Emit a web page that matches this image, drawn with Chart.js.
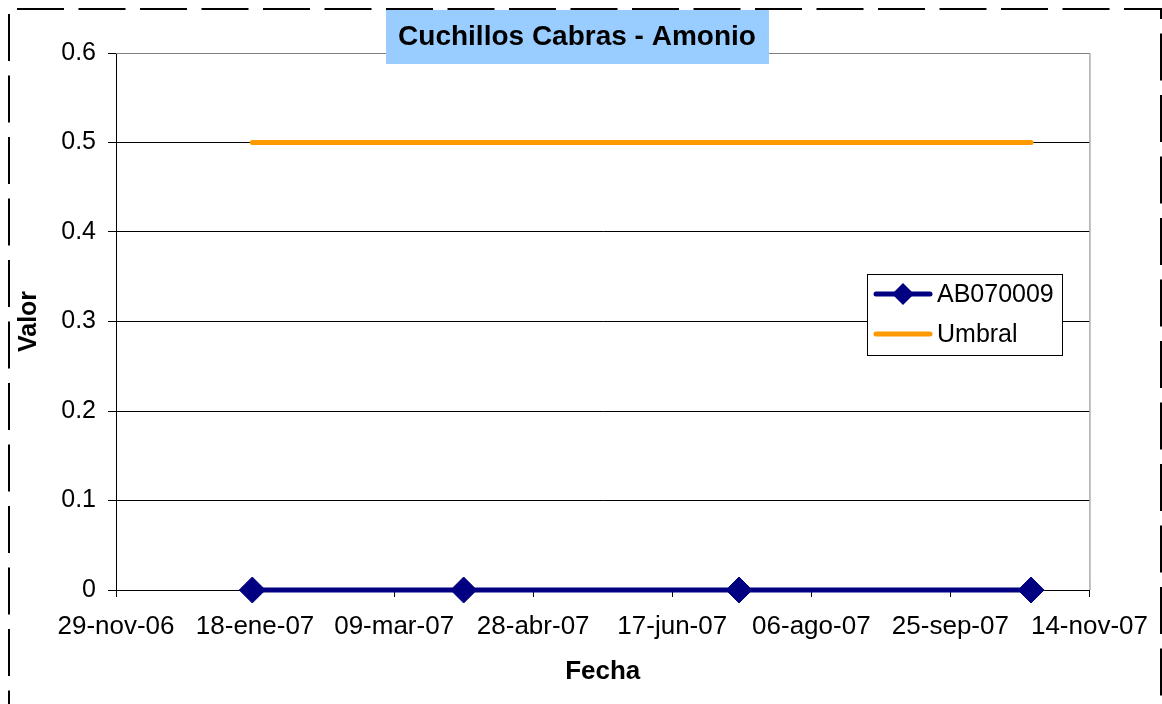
<!DOCTYPE html>
<html lang="es">
<head>
<meta charset="utf-8">
<title>Cuchillos Cabras - Amonio</title>
<script src="https://cdn.jsdelivr.net/npm/chart.js@4/dist/chart.umd.min.js"></script>
<style>
  html, body { margin: 0; padding: 0; background: #fff; }
  #wrap { width: 1162px; height: 704px; position: relative; }
</style>
</head>
<body>
<div id="wrap"><canvas id="chart"></canvas></div>
<script>
// datos
const fechas     = ['2007-01-17', '2007-04-03', '2007-07-11', '2007-10-24'];
const ab070009   = [0, 0, 0, 0];
const umbral     = [0.5, 0.5, 0.5, 0.5];
const ejeXInicio = '2006-11-29';
const ejeXFin    = '2007-11-14';
const pasoDias   = 50;
const ejeYTicks  = [0, 0.1, 0.2, 0.3, 0.4, 0.5, 0.6];

const MESES = ['ene','feb','mar','abr','may','jun','jul','ago','sep','oct','nov','dic'];
const FONT = "'Liberation Sans', Arial, sans-serif";

// dias desde 1970 para usar escala lineal
const toDay = s => Math.round(Date.parse(s + 'T00:00:00Z') / 86400000);
const fmtDay = d => {
  const dt = new Date(d * 86400000);
  const dd = String(dt.getUTCDate()).padStart(2, '0');
  const yy = String(dt.getUTCFullYear()).slice(-2);
  return `${dd}-${MESES[dt.getUTCMonth()]}-${yy}`;
};

const xs = fechas.map(toDay);

// borde punteado, caja del titulo, borde del area y leyenda
const decoracion = {
  id: 'decoracion',
  afterDraw(chart) {
    const ctx = chart.ctx;
    const a = chart.chartArea;
    ctx.save();

    // borde derecho / superior del area de trazado
    ctx.strokeStyle = '#808080';
    ctx.lineWidth = 1;
    ctx.beginPath();
    ctx.moveTo(a.left, a.top + 0.5);
    ctx.lineTo(a.right + 0.5, a.top + 0.5);
    ctx.lineTo(a.right + 0.5, a.bottom);
    ctx.stroke();

    // borde del grafico
    ctx.strokeStyle = '#000';
    ctx.lineWidth = 2;
    ctx.setLineDash([47, 14.5]);
    ctx.beginPath();
    ctx.moveTo(17, 9); ctx.lineTo(1161, 9); ctx.lineTo(1161, 720);
    ctx.stroke();
    ctx.beginPath();
    ctx.moveTo(9, 14); ctx.lineTo(9, 720);
    ctx.stroke();
    ctx.setLineDash([]);

    // titulo
    ctx.fillStyle = '#99ccff';
    ctx.fillRect(386, 10, 383, 54);
    ctx.fillStyle = '#000';
    ctx.font = `bold 28px ${FONT}`;
    ctx.textAlign = 'center';
    ctx.textBaseline = 'middle';
    ctx.fillText('Cuchillos Cabras - Amonio', 577, 37);

    // leyenda
    ctx.fillStyle = '#fff';
    ctx.fillRect(867, 274, 195, 81);
    ctx.strokeStyle = '#000';
    ctx.lineWidth = 1;
    ctx.strokeRect(867.5, 274.5, 195, 81);
    ctx.font = `25px ${FONT}`;
    ctx.textAlign = 'left';
    chart.data.datasets.forEach((ds, i) => {
      const y = 294 + i * 40;
      ctx.strokeStyle = ds.borderColor;
      ctx.lineWidth = ds.borderWidth;
      ctx.lineCap = 'round';
      ctx.beginPath();
      ctx.moveTo(876, y); ctx.lineTo(930, y);
      ctx.stroke();
      if (ds.pointRadius > 0) {
        ctx.fillStyle = ds.pointBackgroundColor;
        ctx.beginPath();
        ctx.moveTo(903 - 11, y); ctx.lineTo(903, y - 11);
        ctx.lineTo(903 + 11, y); ctx.lineTo(903, y + 11);
        ctx.closePath();
        ctx.fill();
      }
      ctx.fillStyle = '#000';
      ctx.fillText(ds.label, 937, y + 1);
    });
    ctx.restore();
  }
};

new Chart(document.getElementById('chart'), {
  type: 'line',
  data: {
    datasets: [
      {
        label: 'AB070009',
        data: xs.map((x, i) => ({ x, y: ab070009[i] })),
        borderColor: '#000080',
        backgroundColor: '#000080',
        borderWidth: 5,
        pointStyle: 'rectRot',
        pointRadius: 13,
        pointBackgroundColor: '#000080',
        pointBorderColor: '#000080',
        pointBorderWidth: 1,
        clip: false,
        order: 1
      },
      {
        label: 'Umbral',
        data: xs.map((x, i) => ({ x, y: umbral[i] })),
        borderColor: '#ff9900',
        backgroundColor: '#ff9900',
        borderWidth: 5,
        borderCapStyle: 'round',
        pointRadius: 0,
        clip: false,
        order: 2
      }
    ]
  },
  options: {
    responsive: true, maintainAspectRatio: false, animation: false,
    layout: { padding: { top: 53, right: 72, left: 0, bottom: 0 } },
    plugins: { legend: { display: false }, tooltip: { enabled: false } },
    scales: {
      x: {
        type: 'linear',
        min: toDay(ejeXInicio), max: toDay(ejeXFin),
        afterFit: s => { s.height = 114; },
        ticks: {
          stepSize: pasoDias, autoSkip: false, maxRotation: 0,
          padding: 14, color: '#000',
          font: { family: FONT, size: 26 },
          callback: v => fmtDay(v)
        },
        grid: { drawOnChartArea: false, tickLength: 7, color: '#000' },
        border: { color: '#000', width: 1 },
        title: {
          display: true, text: 'Fecha', color: '#000',
          font: { family: FONT, size: 26, weight: 'bold' },
          padding: { top: 0, bottom: 17 }
        }
      },
      y: {
        min: 0, max: 0.6,
        afterFit: s => { s.width = 116; },
        afterBuildTicks: s => { s.ticks = ejeYTicks.map(v => ({ value: v })); },
        ticks: {
          padding: 12, color: '#000',
          font: { family: FONT, size: 25 },
          callback: v => String(v)
        },
        grid: { tickLength: 8, color: '#000' },
        border: { color: '#000', width: 1 },
        title: {
          display: true, text: 'Valor', color: '#000',
          font: { family: FONT, size: 25, weight: 'bold' },
          padding: { top: 14, bottom: 0 }
        }
      }
    }
  },
  plugins: [decoracion]
});
</script>
</body>
</html>
